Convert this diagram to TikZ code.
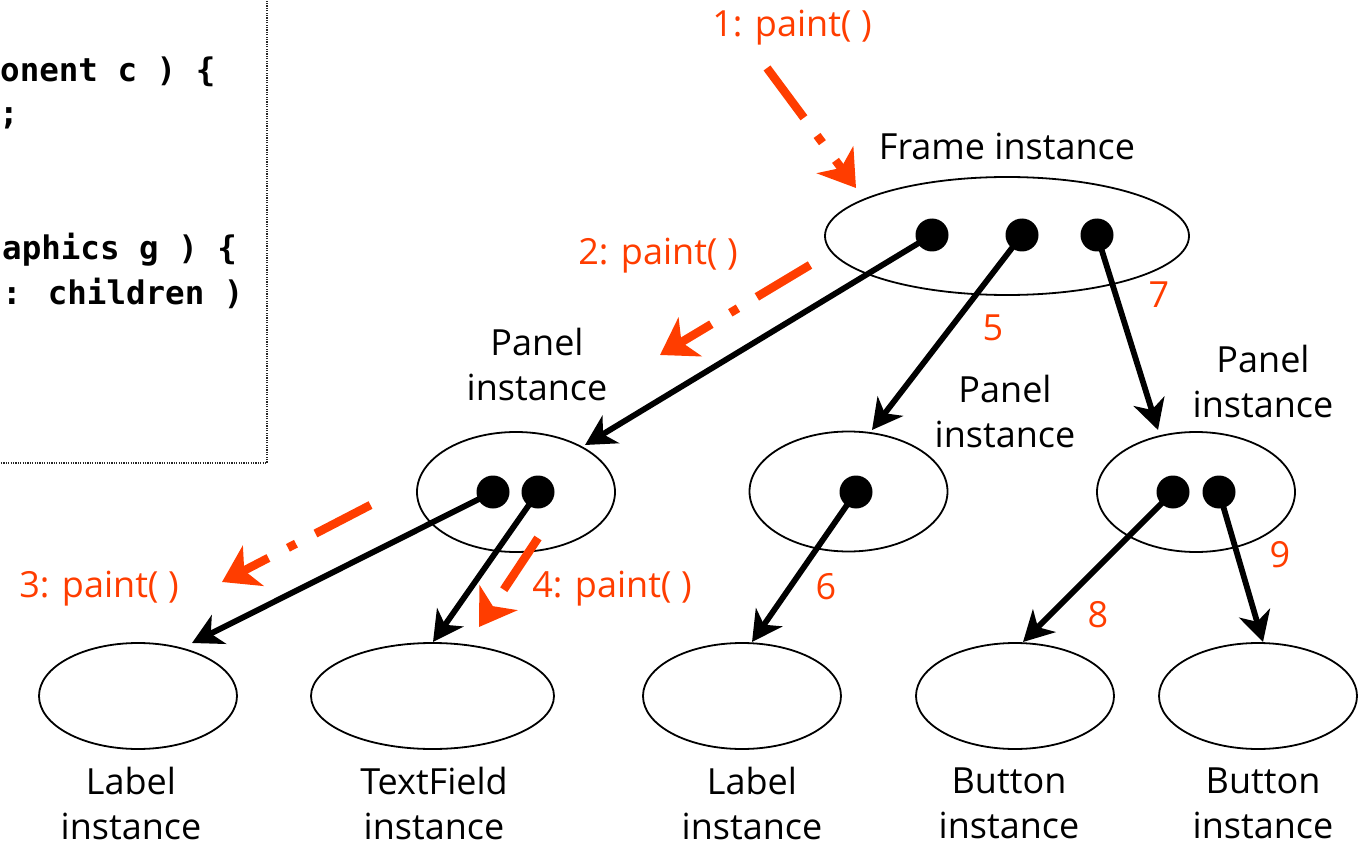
\documentclass[tikz,border=0pt]{standalone}
\usepackage{fontspec}
\setmainfont{Open Sans}
\newfontfamily\codefont{DejaVu Sans Mono}
\usetikzlibrary{shapes.geometric,arrows.meta,calc}
\definecolor{callred}{RGB}{255,61,0}
\begin{document}
\begin{tikzpicture}[x=1pt,y=-1pt,
  lbl/.style={font=\fontsize{36}{45}\selectfont, align=center, inner sep=0pt},
  call/.style={lbl, text=callred},
  num/.style={font=\fontsize{36}{45}\selectfont, text=callred, inner sep=0pt},
  code/.style={font=\codefont\bfseries\fontsize{32.5}{45}\selectfont, anchor=base west, inner sep=0pt},
  obj/.style={ellipse, draw, line width=1.8pt, inner sep=0pt},
  panelobj/.style={obj, minimum width=198pt, minimum height=120pt},
  leafobj/.style={obj, minimum width=198pt, minimum height=106pt},
  ref/.style={circle, fill=black, inner sep=0pt, minimum size=33pt},
  link/.style={line width=5.8pt, -{Stealth[length=30pt,width=32pt,inset=9pt]}},
  msg/.style={callred, line width=8.5pt, dash pattern=on 62pt off 22pt on 9pt off 22pt,
              -{Stealth[length=35pt,width=45pt,inset=10pt]}}]
\useasboundingbox (0,0) rectangle (1363,845);
\clip (0,0) rectangle (1363,845);

% code listing box
\draw[line width=1.5pt, black!85, dash pattern=on 1.2pt off 1.2pt] (-20,-20) rectangle (267,463);
\node[code] (k1) at (0,82) {onent c ) \{};
\node[code] (k2) at (-1,125) {;};
\node[code] (k4) at (2,260) {aphics g ) \{};
\node[code] (k5) at (2,305) {: children )};

% object tree
\node[obj, minimum width=364pt, minimum height=118pt] (fr) at (1007,236) {};
\node[ref] (f1) at (932,235) {};
\node[ref] (f2) at (1022,235) {};
\node[ref] (f3) at (1097,235) {};

\node[panelobj] (lp) at (516,492) {};
\node[ref] (lp1) at (493,492) {};
\node[ref] (lp2) at (538,492) {};

\node[panelobj] (mp) at (848.5,491.5) {};
\node[ref] (md) at (856,492) {};

\node[panelobj] (rp) at (1196,492) {};
\node[ref] (rp1) at (1173,492) {};
\node[ref] (rp2) at (1219,492) {};

\node[leafobj] (l1) at (138,696) {};
\node[leafobj, minimum width=243pt] (tf) at (432.5,696) {};
\node[leafobj] (l2) at (742,696) {};
\node[leafobj] (b1) at (1015,696) {};
\node[leafobj] (b2) at (1258,696) {};

% labels
\node[lbl, anchor=base] (tfr) at (1007,160) {Frame instance};
\node[lbl] (tlp) at (537,364) {Panel\\instance};
\node[lbl] (tmp) at (1005,411) {Panel\\instance};
\node[lbl] (trp) at (1263,381) {Panel\\instance};
\node[lbl] (tl1) at (131,803) {Label\\instance};
\node[lbl] (ttf) at (434,803) {TextField\\instance};
\node[lbl] (tl2) at (752,803) {Label\\instance};
\node[lbl] (tb1) at (1009,803) {Button\\instance};
\node[lbl] (tb2) at (1263,803) {Button\\instance};

% child references
\draw[link] (f1.center) -- ($(lp.center)+(69,-47)$);
\draw[link] (f2.center) -- ($(mp.center)+(23.5,-61.5)$);
\draw[link] (f3.center) -- ($(rp.center)+(-38,-62)$);
\draw[link] (lp1.center) -- ($(l1.center)+(54,-53)$);
\draw[link] (lp2.center) -- ($(tf.center)+(0.5,-54)$);
\draw[link] (md.center) -- ($(l2.center)+(10,-54)$);
\draw[link] (rp1.center) -- ($(b1.center)+(8,-54)$);
\draw[link] (rp2.center) -- ($(b2.center)+(5,-54)$);

% traversal order
\node[num] (n5) at (993,328) {5};
\node[num] (n6) at (826,587) {6};
\node[num] (n7) at (1159,295) {7};
\node[num] (n8) at (1098,615) {8};
\node[num] (n9) at (1280,555) {9};

% paint calls
\coordinate (a1s) at (767,68);   \coordinate (a1e) at (856,188);
\coordinate (a2s) at (810,265);  \coordinate (a2e) at (660,355);
\coordinate (a3s) at (370.5,505);\coordinate (a3e) at (222,582);
\coordinate (a4s) at (538,538);  \coordinate (a4e) at (479,627);
\draw[msg] (a1s) -- (a1e);
\draw[msg] (a2s) -- (a2e);
\draw[msg] (a3s) -- (a3e);
\draw[msg] (a4s) -- (a4e);
\node[call, anchor=base] (c1) at (792,37) {1: paint( )};
\node[call, anchor=base] (c2) at (658,265) {2: paint( )};
\node[call, anchor=base] (c3) at (99,597) {3: paint( )};
\node[call, anchor=base] (c4) at (612,597) {4: paint( )};
\end{tikzpicture}
\end{document}
